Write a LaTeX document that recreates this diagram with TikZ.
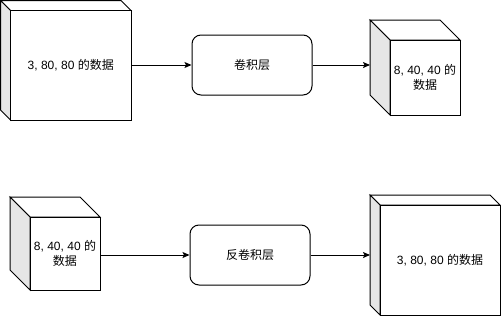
\documentclass[tikz,border=0pt]{standalone}
\usepackage{fontspec}
\setmainfont{Liberation Sans}
\newfontfamily\cjk{Noto Sans CJK SC}
\usepackage{tikz}
\usetikzlibrary{arrows.meta, positioning}
\definecolor{sidegray}{HTML}{E6E6E6}
\tikzset{
  face/.style={draw, line width=1pt, line join=miter},
  sideface/.style={face, fill=sidegray},
  frontface/.style={face, fill=white, inner sep=0pt, align=center,
    font=\fontsize{12}{15}\selectfont},
  layer/.style={draw, line width=1pt, rounded corners=9pt, fill=white,
    minimum width=120pt, minimum height=60pt, font=\fontsize{12}{15}\selectfont},
  link/.style={-{Stealth[length=7pt, width=6pt, inset=1.5pt]}, line width=1pt},
}

% cube: #1 name, (#2,#3) back top-left, (#4,#5) front bottom-right, #6 depth, #7 text
\newcommand{\datacube}[7]{%
  \draw[face] (#2,#3) -- ({#4-#6},#3) -- (#4,{#3+#6}) -- ({#2+#6},{#3+#6}) -- cycle;
  \draw[sideface] (#2,#3) -- ({#2+#6},{#3+#6}) -- ({#2+#6},#5) -- (#2,{#5-#6}) -- cycle;
  \node[frontface, minimum width={#4-#2-#6}, minimum height={#5-#3-#6}]
    (#1) at ({(#2+#6+#4)/2}, {(#3+#6+#5)/2}) {#7};
  \coordinate (#1-back) at (#2, #3);
}

\begin{document}
\begin{tikzpicture}[x=1pt, y=-1pt]
\useasboundingbox (0,0) rectangle (501,316);

%% ─── Top row: convolution ───────────────────────────────────────────────────
\datacube{inA}{0.5}{0.5}{131}{120}{10}{3, 80, 80 {\cjk 的数据}}
\node[layer] (conv) at (252,65) {\cjk 卷积层};
\datacube{outA}{370}{20}{460}{115}{20}{8, 40, 40 {\cjk 的}\\{\cjk 数据}}

\draw[link] (conv.west -| inA.east) -- (conv.west);
\draw[link] (conv.east) -- (conv.east -| outA-back);

%% ─── Bottom row: transposed convolution ─────────────────────────────────────
\datacube{inB}{10}{197}{100}{290}{20}{8, 40, 40 {\cjk 的}\\{\cjk 数据}}
\node[layer] (deconv) at (250,255) {\cjk 反卷积层};
\datacube{outB}{370}{195}{500}{315}{10}{3, 80, 80 {\cjk 的数据}}

\draw[link] (deconv.west -| inB.east) -- (deconv.west);
\draw[link] (deconv.east) -- (deconv.east -| outB-back);

\end{tikzpicture}
\end{document}
